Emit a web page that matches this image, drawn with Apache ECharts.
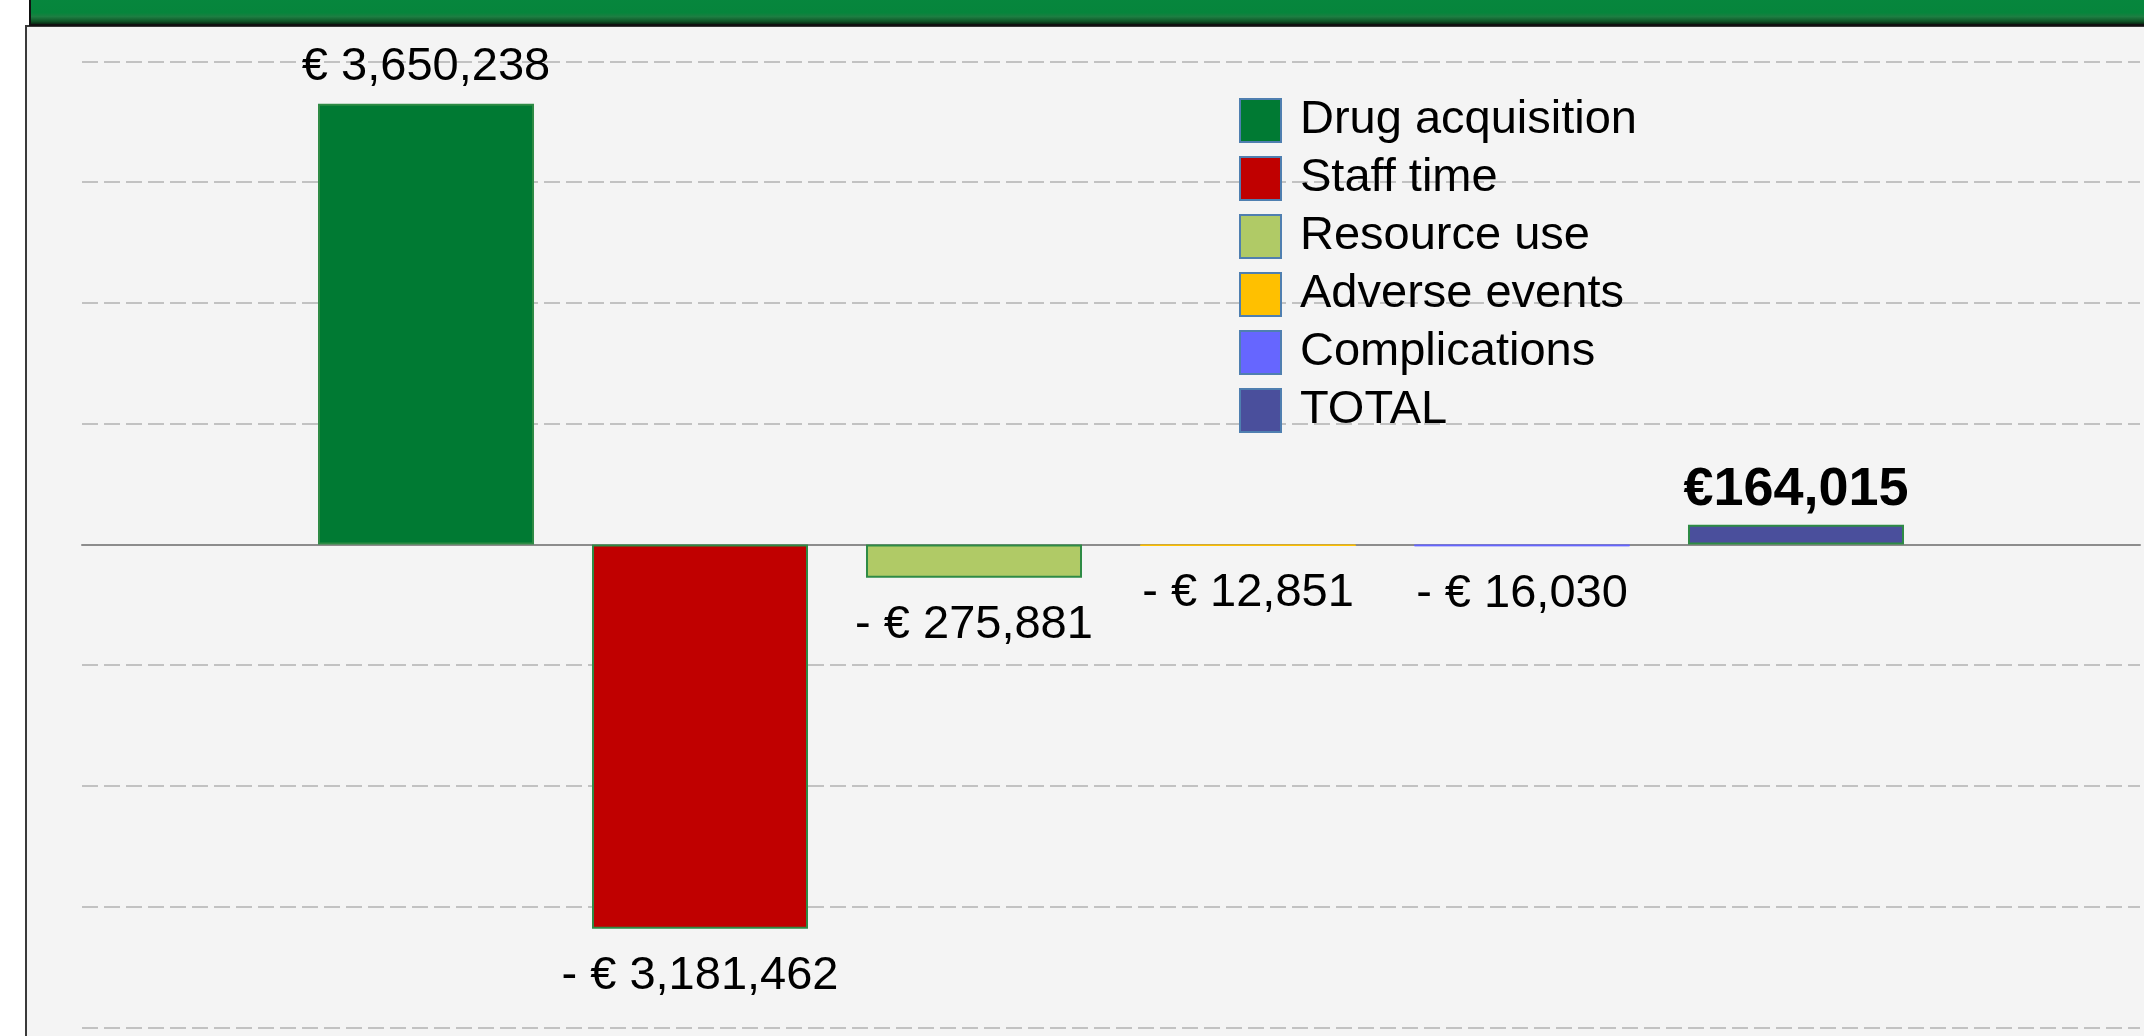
<!DOCTYPE html>
<html>
<head>
<meta charset="utf-8">
<title>Budget impact by cost type</title>
<script src="https://cdn.jsdelivr.net/npm/echarts@6/dist/echarts.min.js"></script>
<style>
  html, body { margin: 0; padding: 0; background: #fff; }
  #chart { width: 2144px; height: 1036px; }
</style>
</head>
<body>
<div id="chart"></div>
<script>
// cost types (one bar each, all in the same category like the Excel clustered chart)
const costTypes = ['Drug acquisition', 'Staff time', 'Resource use', 'Adverse events', 'Complications', 'TOTAL'];
const costValues = [3650238, -3181462, -275881, -12851, -16030, 164015];
const costColors = ['#007A33', '#C00000', '#B0CA66', '#FFC000', '#6666FF', '#4A4F9C'];

// y axis range (no labels shown, only the dashed grid)
const yMin = -4000000;
const yMax = 4000000;
const yStep = 1000000;

const FONT = 'Liberation Sans, Arial, sans-serif';

const fmt = v => Math.abs(v).toLocaleString('en-US');

const chart = echarts.init(document.getElementById('chart'));

const series = costTypes.map((name, i) => {
  const v = costValues[i];
  const isTotal = name === 'TOTAL';
  const thin = Math.abs(v) < 50000; // tiny bars show only their own colour
  return {
    name: name,
    type: 'bar',
    data: [v],
    barWidth: 216,
    barGap: '26.85%',
    itemStyle: {
      color: costColors[i],
      borderColor: thin ? costColors[i] : '#2E8B45',
      borderWidth: thin ? 1 : 2
    },
    label: {
      show: true,
      position: v >= 0 ? 'top' : 'bottom',
      distance: isTotal ? 8 : (v >= 0 ? 13 : 24),
      color: '#000',
      fontFamily: FONT,
      fontSize: isTotal ? 54 : 47,
      fontWeight: isTotal ? 'bold' : 'normal',
      formatter: () => isTotal ? '€' + fmt(v) : (v < 0 ? '- € ' : '€ ') + fmt(v)
    }
  };
});

chart.setOption({
  animation: false,
  backgroundColor: 'transparent',
  graphic: [
    // grey panel behind the plot
    {
      type: 'rect', z: -10, silent: true,
      shape: { x: 26, y: 26, width: 2140, height: 1030 },
      style: { fill: '#F4F4F4', stroke: '#3a3a3a', lineWidth: 2 }
    },
    // green header strip (title is cut off above the picture)
    {
      type: 'rect', z: -9, silent: true,
      shape: { x: 30, y: -20, width: 2130, height: 45 },
      style: {
        stroke: '#111', lineWidth: 2,
        fill: new echarts.graphic.LinearGradient(0, 0, 0, 1, [
          { offset: 0, color: '#06893F' },
          { offset: 0.72, color: '#06853C' },
          { offset: 0.8, color: '#1D7E42' },
          { offset: 0.9, color: '#0F5527' },
          { offset: 1, color: '#050905' }
        ])
      }
    }
  ],
  legend: {
    orient: 'vertical',
    left: 1239,
    top: 97,
    padding: 0,
    itemWidth: 41,
    itemHeight: 43,
    itemGap: 11,
    icon: 'rect',
    itemStyle: { borderColor: '#4F7FB0', borderWidth: 2 },
    textStyle: {
      color: '#000',
      fontFamily: FONT,
      fontSize: 47,
      lineHeight: 43,
      padding: [0, 0, 0, 14]
    },
    data: costTypes
  },
  grid: { left: 82, right: 4, top: 61.4, bottom: 8.5, containLabel: false },
  xAxis: {
    type: 'category',
    data: [''],
    axisTick: { show: false },
    axisLabel: { show: false },
    axisLine: { show: true, onZero: true, lineStyle: { color: '#8C8C8C', width: 2 } }
  },
  yAxis: {
    type: 'value',
    min: yMin,
    max: yMax,
    interval: yStep,
    axisLine: { show: false },
    axisTick: { show: false },
    axisLabel: { show: false },
    splitLine: { lineStyle: { color: '#C2C2C2', width: 2, type: [16, 6] } }
  },
  series: series
});
</script>
</body>
</html>
